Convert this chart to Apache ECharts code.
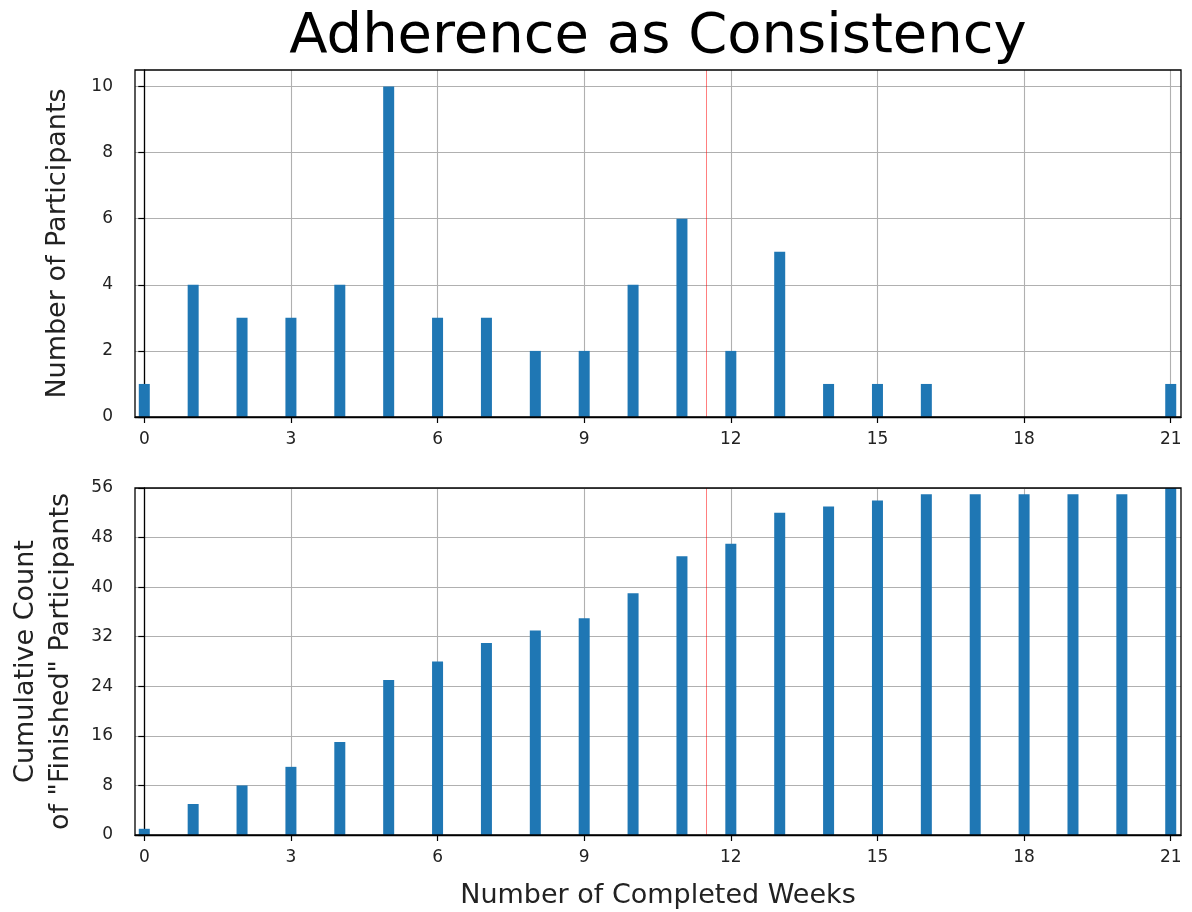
<!DOCTYPE html>
<html><head><meta charset="utf-8">
<script src="https://cdn.jsdelivr.net/npm/echarts@6/dist/echarts.min.js"></script>
<style>html,body{margin:0;padding:0;background:#fff}#c{width:1192px;height:912px}</style>
</head><body><div id="c"></div>
<script>
const weeks = [0,1,2,3,4,5,6,7,8,9,10,11,12,13,14,15,16,17,18,19,20,21];
const participants = [1,4,3,3,4,10,3,3,2,2,4,6,2,5,1,1,1,0,0,0,0,1];
const cumulative = [1,5,8,11,15,25,28,31,33,35,39,45,47,52,53,54,55,55,55,55,55,56];
const xTicks = [0,3,6,9,12,15,18,21];
const topYTicks = [0,2,4,6,8,10];
const bottomYTicks = [0,8,16,24,32,40,48,56];
const cutoff = 11.5;

const FONT = 'DejaVu Sans';
const chart = echarts.init(document.getElementById('c'), null, {renderer:'canvas'});
const grids = [
  {left:135, right:11, top:70, height:347, containLabel:false, outerBoundsMode:'none'},
  {left:135, right:11, top:488, height:347, containLabel:false, outerBoundsMode:'none'}
];
function xAxis(i, withName){
  return {
    type:'value', gridIndex:i, min:-0.19, max:21.21,
    name: withName ? 'Number of Completed Weeks' : '',
    nameLocation:'middle', nameGap:47,
    nameTextStyle:{fontFamily:FONT, fontSize:27, color:'#222'},
    axisLine:{show:true, onZero:false, lineStyle:{color:'#000', width:1.3}},
    axisTick:{show:true, length:6, customValues:xTicks, lineStyle:{color:'#000', width:1.2}},
    axisLabel:{customValues:xTicks, fontFamily:FONT, fontSize:17, color:'#222', margin:14},
    splitLine:{show:true, lineStyle:{color:'#b0b0b0', width:1.1}}
  };
}
function yAxis(i, max, ticks, name, gap){
  return {
    type:'value', gridIndex:i, min:0, max:max,
    name:name, nameLocation:'middle', nameGap:gap,
    nameTextStyle:{fontFamily:FONT, fontSize:27, color:'#222', lineHeight:35},
    axisLine:{show:true, lineStyle:{color:'#000', width:1.3}},
    axisTick:{show:true, length:6, customValues:ticks, lineStyle:{color:'#000', width:1.2}},
    axisLabel:{customValues:ticks, fontFamily:FONT, fontSize:17, color:'#222', margin:22},
    splitLine:{show:true, lineStyle:{color:'#b0b0b0', width:1.1}}
  };
}
const redLine = {
  silent:true, symbol:['none','none'], label:{show:false},
  lineStyle:{color:'rgba(255,0,0,0.5)', width:1, type:'solid'},
  data:[{xAxis:cutoff}]
};
chart.setOption({
  animation:false,
  grid:grids,
  xAxis:[xAxis(0,false), xAxis(1,true)],
  yAxis:[yAxis(0,10.5,topYTicks,'Number of Participants',60),
         yAxis(1,56,bottomYTicks,'Cumulative Count\nof "Finished" Participants',57)],
  series:[
    {type:'bar', xAxisIndex:0, yAxisIndex:0, barWidth:11,
     itemStyle:{color:'#1f77b4'},
     data:weeks.map((w,i)=>[w,participants[i]]), markLine:redLine},
    {type:'bar', xAxisIndex:1, yAxisIndex:1, barWidth:11,
     itemStyle:{color:'#1f77b4'},
     data:weeks.map((w,i)=>[w,cumulative[i]]), markLine:redLine}
  ],
  graphic:[
    {type:'text', x:658, y:37, silent:true, style:{text:'Adherence as Consistency',
      fontFamily:FONT, fontSize:56, fill:'#000', align:'center', verticalAlign:'middle'}}
  ].concat(grids.map(g=>({type:'rect', silent:true, z:100,
    shape:{x:g.left, y:g.top, width:1192-g.left-g.right, height:g.height},
    style:{fill:'none', stroke:'#000', lineWidth:1.3}})))
});
</script></body></html>
